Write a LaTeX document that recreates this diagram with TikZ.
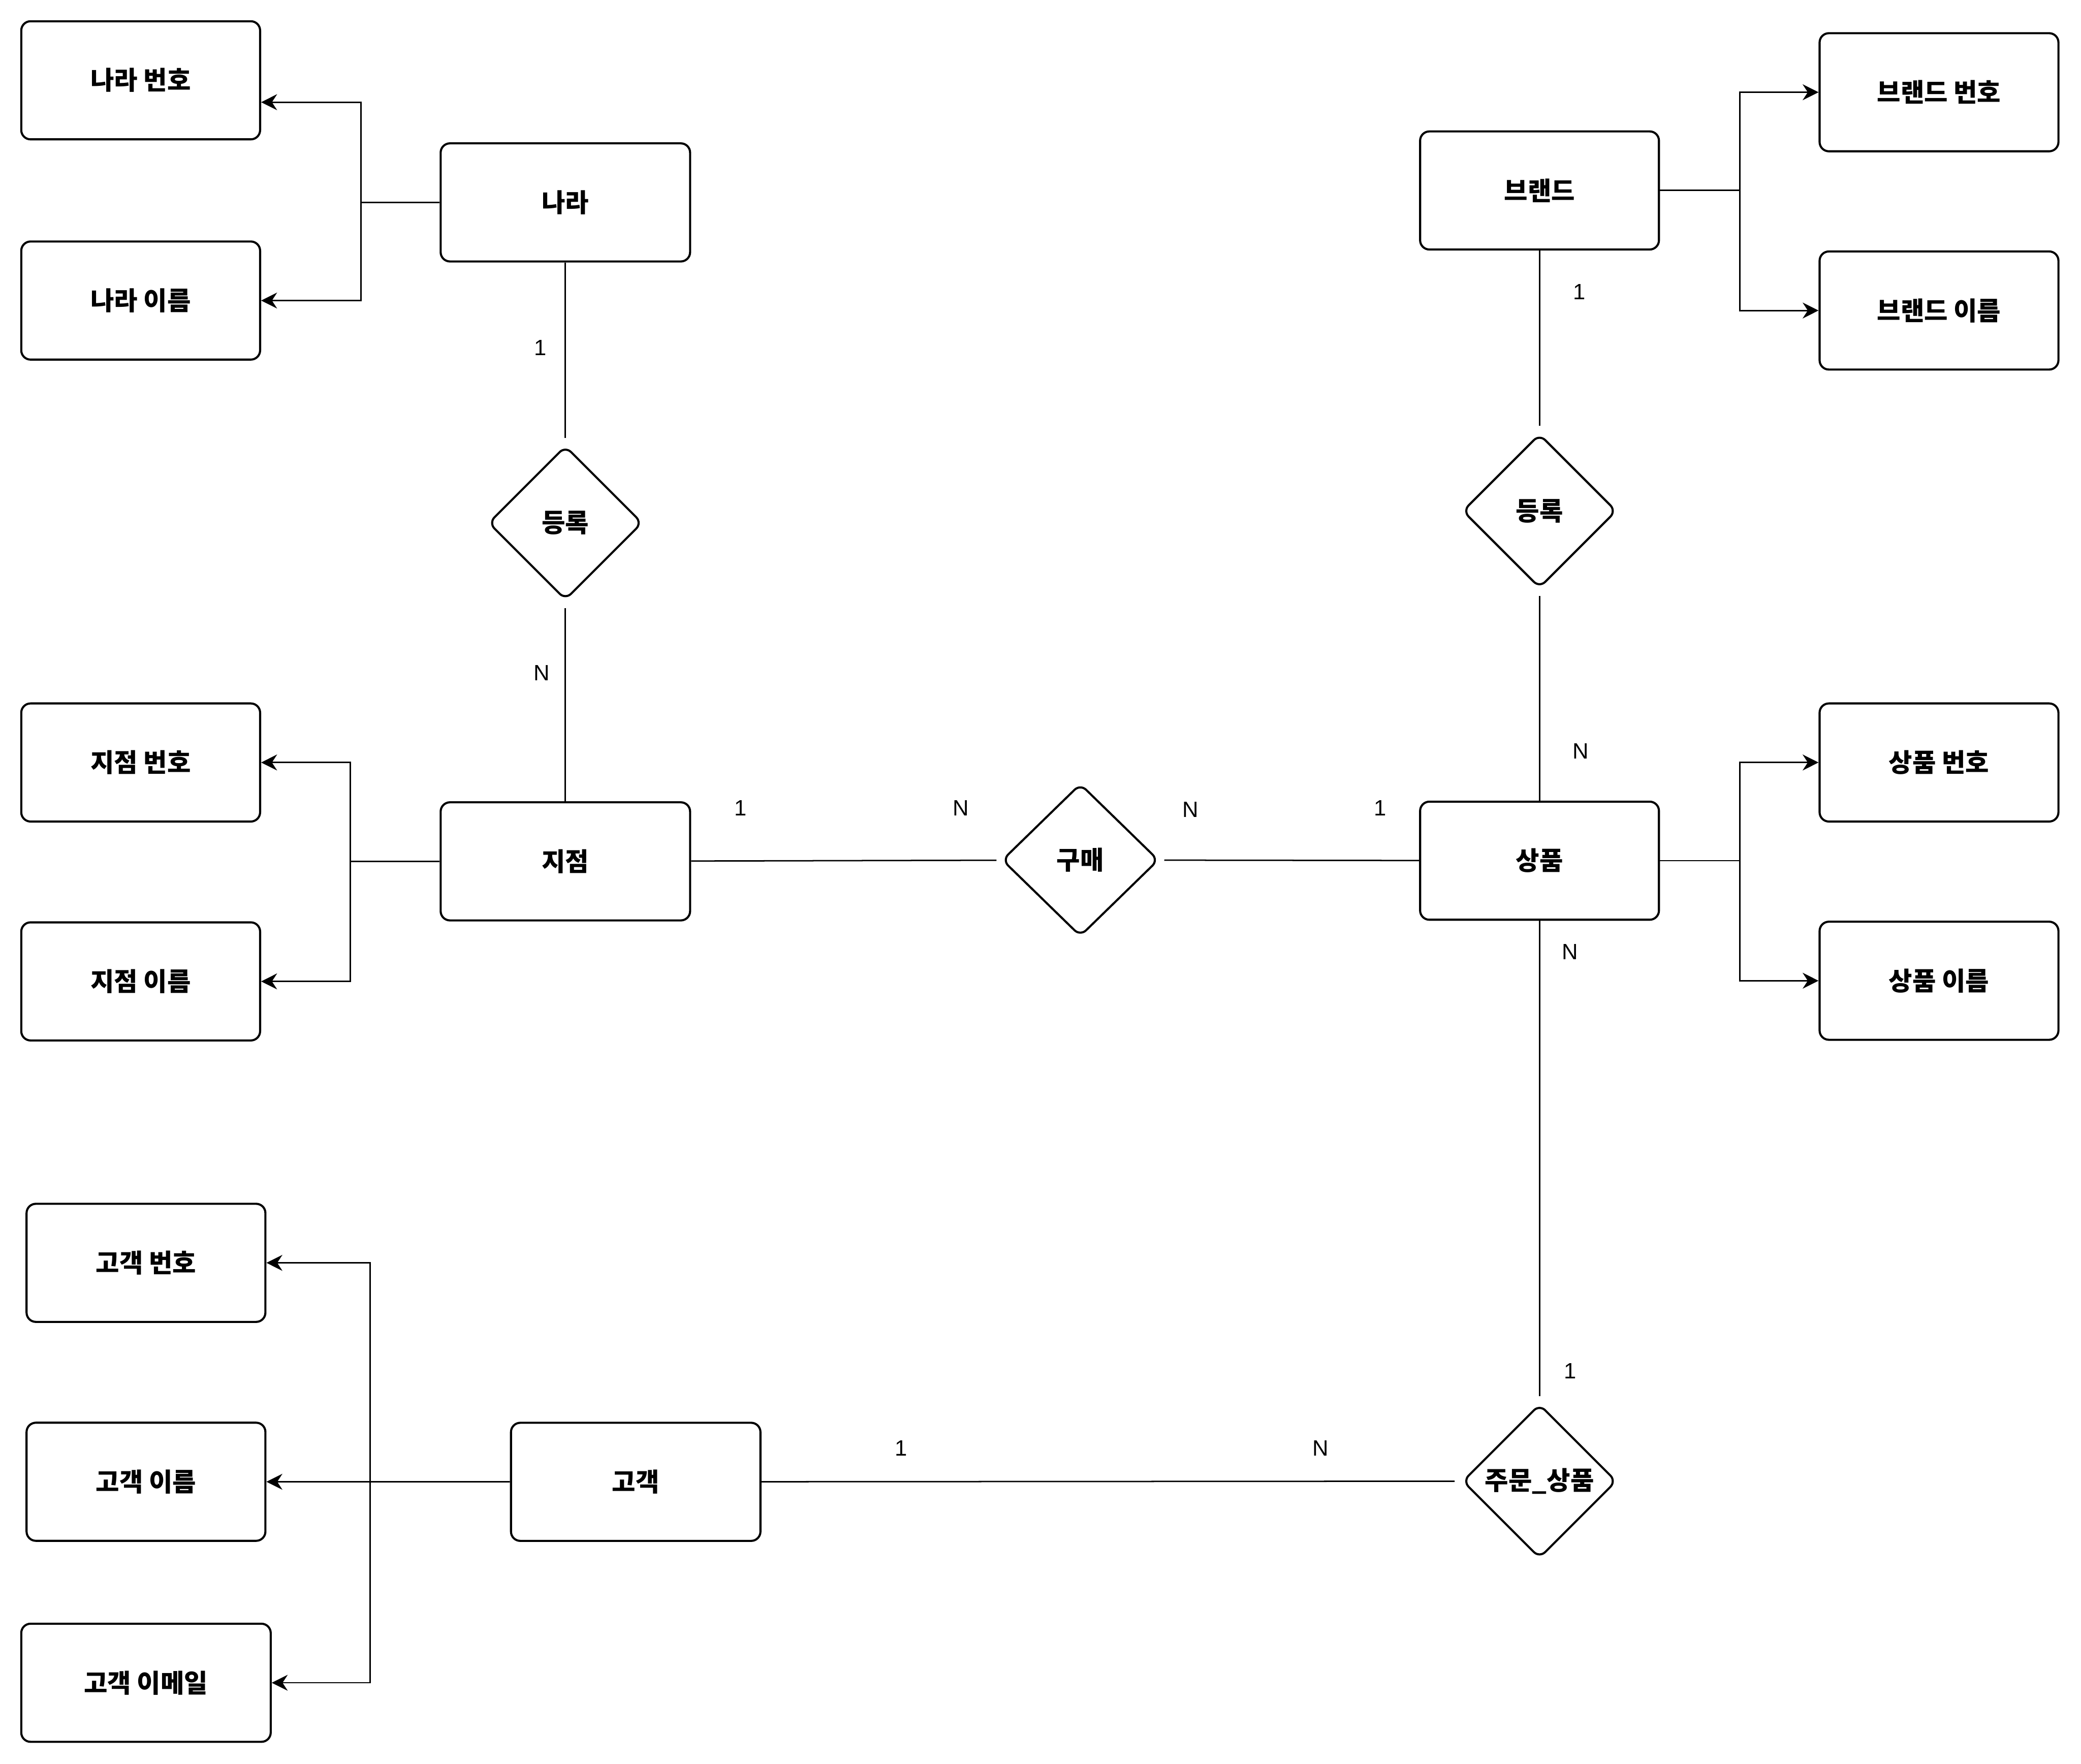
\documentclass[tikz,border=0pt]{standalone}
\usepackage{fontspec}
\setmainfont{Liberation Sans}
\newfontfamily\kr{Noto Sans CJK KR}
\usetikzlibrary{positioning,arrows.meta,shapes.geometric}

\begin{document}
\begin{tikzpicture}[
  x=0.02cm, y=-0.02cm,
  node distance=14.88mm and 24mm,
  entity/.style={draw, line width=0.9pt, rounded corners=1.4mm, align=center, minimum width=36mm, minimum height=17.8mm, font=\kr\bfseries\fontsize{11}{13}\selectfont},
  attr/.style={entity},
  rel/.style={draw, diamond, line width=0.9pt, rounded corners=1.2mm, inner sep=0pt, minimum width=23.2mm, minimum height=23.2mm, font=\kr\bfseries\fontsize{11}{13}\selectfont},
  link/.style={line width=0.6pt},
  flow/.style={-{Stealth[length=2.4mm, width=2.4mm]}, line width=0.6pt},
  card/.style={font=\fontsize{9.5}{11}\selectfont}
]
\useasboundingbox (0,0) rectangle (1568,1329);

% entities and attributes
\node[entity, minimum width=37.6mm] (nara) at (426,152.5) {나라};
\node[attr] (naranum) at (106,60.5) {나라 번호};
\node[attr, below=15.08mm of naranum] (naraname) {나라 이름};
\node[entity, minimum width=37.6mm] (branch) at (426,649) {지점};
\node[attr] (branchnum) at (106,574.5) {지점 번호};
\node[attr, below=of branchnum] (branchname) {지점 이름};
\node[entity] (product) at (1160,648.5) {상품};
\node[attr] (prodnum) at (1461,574.5) {상품 번호};
\node[attr, below=14.78mm of prodnum] (prodname) {상품 이름};
\node[entity] (brand) at (1160,143.5) {브랜드};
\node[attr] (brandnum) at (1461,69.5) {브랜드 번호};
\node[attr, below=14.78mm of brandnum] (brandname) {브랜드 이름};
\node[entity, minimum width=37.6mm] (cust) at (479,1116.5) {고객};
\node[attr] (custnum) at (110,951.5) {고객 번호};
\node[attr, below=of custnum] (custname) {고객 이름};
\node[attr, minimum width=37.6mm, below=12.18mm of custname] (custmail) {고객 이메일};

% relationships
\node[rel] (regA) at (426,394) {등록};
\node[rel, minimum width=23.6mm, minimum height=23mm] (buy) at (814,648) {구매};
\node[rel] (regB) at (1160,385) {등록};
\node[rel] (order) at (1160,1116) {주문\_상품};

% cardinalities
\node[card] (cNaraReg) at (407,262) {1};
\node[card] (cRegBranch) at (408,507) {N};
\node[card] (cBranchBuy) at (558,609) {1};
\node[card] (cBuyBranch) at (724,609) {N};
\node[card] (cBuyProd) at (897,610) {N};
\node[card] (cProdBuy) at (1040,609) {1};
\node[card] (cBrandReg) at (1190,220) {1};
\node[card] (cRegProd) at (1191,566) {N};
\node[card] (cProdOrder) at (1183,717) {N};
\node[card] (cOrderProd) at (1183,1033) {1};
\node[card] (cCustOrder) at (679,1091) {1};
\node[card] (cOrderCust) at (995,1091) {N};

\coordinate (narabus) at (272,152.5);
\coordinate (branchbus) at (264,649);
\coordinate (custbus) at (279,1116.5);
\coordinate (brandbus) at (1311,143.5);
\coordinate (prodbus) at (1311,648.5);

% attribute arrows
\draw[flow] (nara.west) -- (narabus) |- ([yshift=-3.3mm]naranum.east);
\draw[flow] (narabus) |- (naraname.east);
\draw[flow] (branch.west) -- (branchbus) |- (branchnum.east);
\draw[flow] (branchbus) |- (branchname.east);
\draw[flow] (brand.east) -- (brandbus) |- (brandnum.west);
\draw[flow] (brandbus) |- (brandname.west);
\draw[flow] (product.east) -- (prodbus) |- (prodnum.west);
\draw[flow] (prodbus) |- (prodname.west);
\draw[flow] (cust.west) -- (custname.east);
\draw[flow] (custbus) |- (custnum.east);
\draw[flow] (custbus) |- (custmail.east);

% relationship lines
\draw[link, shorten >=3pt] (nara) -- (regA);
\draw[link, shorten <=3pt] (regA) -- (branch);
\draw[link, shorten >=2pt] (branch) -- (buy);
\draw[link, shorten <=2pt] (buy) -- (product);
\draw[link, shorten >=3pt] (brand) -- (regB);
\draw[link, shorten <=3pt] (regB) -- (product);
\draw[link, shorten >=3pt] (product) -- (order);
\draw[link, shorten >=3pt] (cust) -- (order);
\end{tikzpicture}
\end{document}
